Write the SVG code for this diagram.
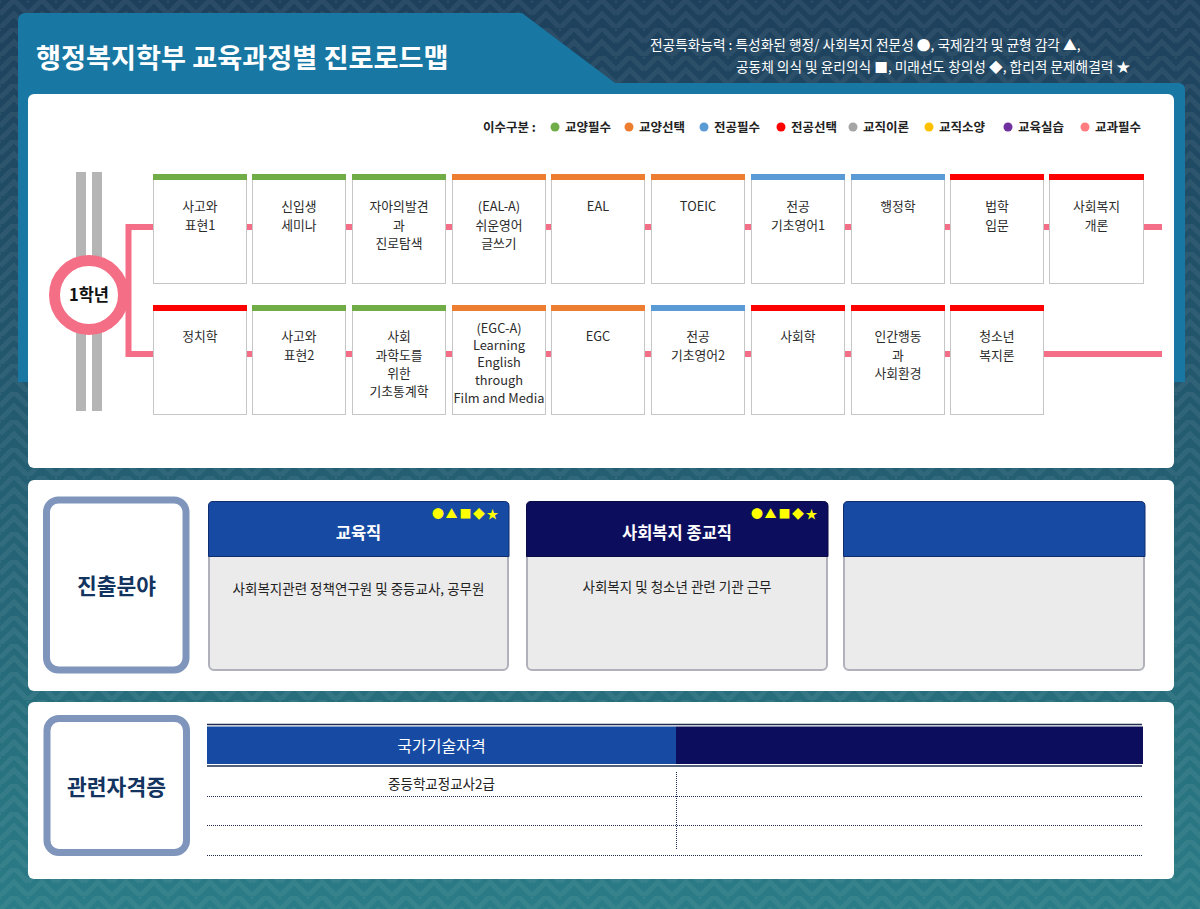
<svg xmlns="http://www.w3.org/2000/svg" width="1200" height="909" viewBox="0 0 1200 909">
<defs>
  <linearGradient id="bg" x1="0" y1="0" x2="0" y2="1">
    <stop offset="0" stop-color="#1e405c"/>
    <stop offset="0.45" stop-color="#235a70"/>
    <stop offset="1" stop-color="#2a7c86"/>
  </linearGradient>
  <pattern id="zz" width="28" height="28" patternUnits="userSpaceOnUse">
    <path d="M0,14 L14,0 L28,14 M0,28 L14,14 L28,28 M-7,7 L0,0 M28,0 L35,7" fill="none" stroke="#ffffff" stroke-opacity="0.06" stroke-width="5"/>
  </pattern>
  <style>
    text{font-family:"Noto Sans CJK KR","Noto Sans",sans-serif}
    .panel{fill:#ffffff}
    .box{fill:#ffffff;stroke:#c6c6c6;stroke-width:1}
    .ct{font-size:12.8px;fill:#2b2b2b;text-anchor:middle}
    .lg{font-size:12.5px;font-weight:bold;fill:#222222}
    .conn{stroke:#f36e86;stroke-width:6;fill:none}
    .g{fill:#70ad47}.o{fill:#ed7d31}.b{fill:#5b9bd5}.r{fill:#ff0000}
    .lbl{fill:#ffffff;stroke:#7f95bb;stroke-width:7}
    .lbt{font-size:21.5px;font-weight:bold;fill:#12345f;text-anchor:middle}
    .cbody{fill:#ebebeb;stroke:#b0b1bb;stroke-width:2}
    .ht{font-size:16.5px;font-weight:bold;fill:#ffffff;text-anchor:middle}
    .sym{font-size:12px;fill:#ffff00;text-anchor:middle}
    .bt{font-size:13.5px;fill:#222222;text-anchor:middle}
    .dot{stroke:#1e2d55;stroke-width:1;stroke-dasharray:1 1;fill:none}
    .tl{stroke:#1e2d4f;stroke-width:1.5;fill:none}
    .top{font-size:13.7px;fill:#ffffff}
  </style>
</defs>

<!-- background -->
<rect x="0" y="0" width="1200" height="909" fill="url(#bg)"/>
<rect x="0" y="0" width="1200" height="909" fill="url(#zz)"/>

<!-- header band -->
<path d="M18,382 V21 Q18,13 26,13 H522 L615,83 H1178 Q1185,83 1185,90 V382 Z" fill="#1878a3"/>
<text x="36" y="68" font-size="27.2" font-weight="bold" fill="#ffffff">행정복지학부 교육과정별 진로로드맵</text>
<text class="top" x="650" y="50">전공특화능력 : 특성화된 행정/ 사회복지 전문성 ●, 국제감각 및 균형 감각 ▲,</text>
<text class="top" x="736" y="71.5">공동체 의식 및 윤리의식 ■, 미래선도 창의성 ◆, 합리적 문제해결력 ★</text>

<!-- panels -->
<rect class="panel" x="28" y="94" width="1146" height="374" rx="6"/>
<rect class="panel" x="28" y="480" width="1146" height="211" rx="6"/>
<rect class="panel" x="28" y="702" width="1146" height="177" rx="6"/>

<!-- legend -->
<g id="legend">
  <text class="lg" x="483" y="131.5">이수구분 :</text>
  <circle cx="555" cy="127" r="4.5" fill="#70ad47"/><text class="lg" x="565" y="131.5">교양필수</text>
  <circle cx="629" cy="127" r="4.5" fill="#ed7d31"/><text class="lg" x="639" y="131.5">교양선택</text>
  <circle cx="704" cy="127" r="4.5" fill="#5b9bd5"/><text class="lg" x="714" y="131.5">전공필수</text>
  <circle cx="781" cy="127" r="4.5" fill="#ff0000"/><text class="lg" x="791" y="131.5">전공선택</text>
  <circle cx="853" cy="127" r="4.5" fill="#a5a5a5"/><text class="lg" x="863" y="131.5">교직이론</text>
  <circle cx="929" cy="127" r="4.5" fill="#ffc000"/><text class="lg" x="939" y="131.5">교직소양</text>
  <circle cx="1008" cy="127" r="4.5" fill="#7030a0"/><text class="lg" x="1018" y="131.5">교육실습</text>
  <circle cx="1085" cy="127" r="4.5" fill="#ff7c80"/><text class="lg" x="1095" y="131.5">교과필수</text>
</g>

<!-- track -->
<g id="track">
  <rect x="76" y="172" width="10" height="239" fill="#b5b5b5"/>
  <rect x="92" y="172" width="10" height="239" fill="#b5b5b5"/>
</g>

<!-- connectors -->
<g id="connectors">
  <path class="conn" d="M153,227 H128.5 V354 H153"/>
  <line class="conn" x1="150" y1="227" x2="1162" y2="227"/>
  <line class="conn" x1="150" y1="354" x2="1162" y2="354"/>
</g>

<g id="year1">
  <circle cx="89" cy="295" r="34.5" fill="#ffffff" stroke="#f46e85" stroke-width="11"/>
  <text x="89" y="301" font-size="16.5" font-weight="bold" fill="#111111" text-anchor="middle">1학년</text>
</g>

<!-- row 1 -->
<g id="c1-1"><rect class="box" x="153.5" y="174.5" width="93" height="109"/><rect class="g" x="153" y="174" width="94" height="6"/>
  <text class="ct" x="200" y="210.5">사고와</text><text class="ct" x="200" y="229.5">표현1</text></g>
<g id="c1-2"><rect class="box" x="252.5" y="174.5" width="93" height="109"/><rect class="g" x="252" y="174" width="94" height="6"/>
  <text class="ct" x="299" y="210.5">신입생</text><text class="ct" x="299" y="229.5">세미나</text></g>
<g id="c1-3"><rect class="box" x="352.5" y="174.5" width="93" height="109"/><rect class="g" x="352" y="174" width="94" height="6"/>
  <text class="ct" x="399" y="210.5">자아의발견</text><text class="ct" x="399" y="229.5">과</text><text class="ct" x="399" y="248">진로탐색</text></g>
<g id="c1-4"><rect class="box" x="452.5" y="174.5" width="93" height="109"/><rect class="o" x="452" y="174" width="94" height="6"/>
  <text class="ct" x="499" y="210.5">(EAL-A)</text><text class="ct" x="499" y="229.5">쉬운영어</text><text class="ct" x="499" y="248">글쓰기</text></g>
<g id="c1-5"><rect class="box" x="551.5" y="174.5" width="93" height="109"/><rect class="o" x="551" y="174" width="94" height="6"/>
  <text class="ct" x="598" y="210.5">EAL</text></g>
<g id="c1-6"><rect class="box" x="651.5" y="174.5" width="93" height="109"/><rect class="o" x="651" y="174" width="94" height="6"/>
  <text class="ct" x="698" y="210.5">TOEIC</text></g>
<g id="c1-7"><rect class="box" x="751.5" y="174.5" width="93" height="109"/><rect class="b" x="751" y="174" width="94" height="6"/>
  <text class="ct" x="798" y="210.5">전공</text><text class="ct" x="798" y="229.5">기초영어1</text></g>
<g id="c1-8"><rect class="box" x="851.5" y="174.5" width="93" height="109"/><rect class="b" x="851" y="174" width="94" height="6"/>
  <text class="ct" x="898" y="210.5">행정학</text></g>
<g id="c1-9"><rect class="box" x="950.5" y="174.5" width="93" height="109"/><rect class="r" x="950" y="174" width="94" height="6"/>
  <text class="ct" x="997" y="210.5">법학</text><text class="ct" x="997" y="229.5">입문</text></g>
<g id="c1-10"><rect class="box" x="1049.5" y="174.5" width="94" height="109"/><rect class="r" x="1049" y="174" width="95" height="6"/>
  <text class="ct" x="1096.5" y="210.5">사회복지</text><text class="ct" x="1096.5" y="229.5">개론</text></g>

<!-- row 2 -->
<g id="c2-1"><rect class="box" x="153.5" y="305.5" width="93" height="109"/><rect class="r" x="153" y="305" width="94" height="6"/>
  <text class="ct" x="200" y="341">정치학</text></g>
<g id="c2-2"><rect class="box" x="252.5" y="305.5" width="93" height="109"/><rect class="g" x="252" y="305" width="94" height="6"/>
  <text class="ct" x="299" y="341">사고와</text><text class="ct" x="299" y="359.5">표현2</text></g>
<g id="c2-3"><rect class="box" x="352.5" y="305.5" width="93" height="109"/><rect class="g" x="352" y="305" width="94" height="6"/>
  <text class="ct" x="399" y="341">사회</text><text class="ct" x="399" y="359.5">과학도를</text><text class="ct" x="399" y="377.5">위한</text><text class="ct" x="399" y="395.5">기초통계학</text></g>
<g id="c2-4"><rect class="box" x="452.5" y="305.5" width="93" height="109"/><rect class="o" x="452" y="305" width="94" height="6"/>
  <text class="ct" x="499" y="332.5">(EGC-A)</text><text class="ct" x="499" y="350">Learning</text><text class="ct" x="499" y="367">English</text><text class="ct" x="499" y="385">through</text><text class="ct" x="499" y="403">Film and Media</text></g>
<g id="c2-5"><rect class="box" x="551.5" y="305.5" width="93" height="109"/><rect class="o" x="551" y="305" width="94" height="6"/>
  <text class="ct" x="598" y="341">EGC</text></g>
<g id="c2-6"><rect class="box" x="651.5" y="305.5" width="93" height="109"/><rect class="b" x="651" y="305" width="94" height="6"/>
  <text class="ct" x="698" y="341">전공</text><text class="ct" x="698" y="359.5">기초영어2</text></g>
<g id="c2-7"><rect class="box" x="751.5" y="305.5" width="93" height="109"/><rect class="r" x="751" y="305" width="94" height="6"/>
  <text class="ct" x="798" y="341">사회학</text></g>
<g id="c2-8"><rect class="box" x="851.5" y="305.5" width="93" height="109"/><rect class="r" x="851" y="305" width="94" height="6"/>
  <text class="ct" x="898" y="341">인간행동</text><text class="ct" x="898" y="359.5">과</text><text class="ct" x="898" y="378">사회환경</text></g>
<g id="c2-9"><rect class="box" x="950.5" y="305.5" width="93" height="109"/><rect class="r" x="950" y="305" width="94" height="6"/>
  <text class="ct" x="997" y="341">청소년</text><text class="ct" x="997" y="359.5">복지론</text></g>

<!-- career section -->
<g id="career-label">
  <rect class="lbl" x="46.5" y="500" width="139.5" height="170" rx="12"/>
  <text class="lbt" x="116.5" y="594">진출분야</text>
</g>
<g id="career-1">
  <rect class="cbody" x="209" y="502" width="299" height="168" rx="5"/>
  <path d="M208.5,556.5 V506 Q208.5,501.5 213,501.5 H504.5 Q509,501.5 509,506 V556.5 Z" fill="#174ba3" stroke="#0f2c6e" stroke-width="1"/>
  <text class="sym" x="438" y="518.5">●</text><text class="sym" x="451.5" y="518.5">▲</text><text class="sym" x="465.5" y="518.5">■</text><text class="sym" x="479" y="518.5">◆</text><text class="sym" x="492.5" y="518.5">★</text>
  <text class="ht" x="358.5" y="539">교육직</text>
  <text class="bt" x="358.5" y="593.5">사회복지관련 정책연구원 및 중등교사, 공무원</text>
</g>
<g id="career-2">
  <rect class="cbody" x="527" y="502" width="300" height="168" rx="5"/>
  <path d="M526.5,556.5 V506 Q526.5,501.5 531,501.5 H823.5 Q828,501.5 828,506 V556.5 Z" fill="#0d0d5e" stroke="#0a0a45" stroke-width="1"/>
  <text class="sym" x="757" y="518.5">●</text><text class="sym" x="770.5" y="518.5">▲</text><text class="sym" x="784.5" y="518.5">■</text><text class="sym" x="798" y="518.5">◆</text><text class="sym" x="811.5" y="518.5">★</text>
  <text class="ht" x="677" y="539">사회복지 종교직</text>
  <text class="bt" x="677" y="591.5">사회복지 및 청소년 관련 기관 근무</text>
</g>
<g id="career-3">
  <rect class="cbody" x="844" y="502" width="300" height="168" rx="5"/>
  <path d="M843.5,556.5 V506 Q843.5,501.5 848,501.5 H1140.5 Q1145,501.5 1145,506 V556.5 Z" fill="#174ba3" stroke="#0f2c6e" stroke-width="1"/>
</g>

<!-- certificate section -->
<g id="cert-label">
  <rect class="lbl" x="47" y="718.5" width="139.5" height="134" rx="12"/>
  <text class="lbt" x="116.5" y="795">관련자격증</text>
</g>
<g id="cert-table">
  <line class="tl" x1="207" y1="724.5" x2="1142" y2="724.5"/>
  <rect x="207" y="726.5" width="469" height="37.5" fill="#174ba3"/>
  <rect x="676" y="726.5" width="467" height="37.5" fill="#0d0d5e"/>
  <line class="tl" x1="207" y1="766" x2="1142" y2="766"/>
  <text x="441.5" y="752" font-size="16" fill="#ffffff" text-anchor="middle">국가기술자격</text>
  <text class="bt" x="441.5" y="788.5">중등학교정교사2급</text>
  <line class="dot" x1="207" y1="796.5" x2="1142" y2="796.5"/>
  <line class="dot" x1="207" y1="825.5" x2="1142" y2="825.5"/>
  <line class="dot" x1="207" y1="855.5" x2="1142" y2="855.5"/>
  <line class="dot" x1="676.5" y1="772" x2="676.5" y2="849"/>
</g>
</svg>
